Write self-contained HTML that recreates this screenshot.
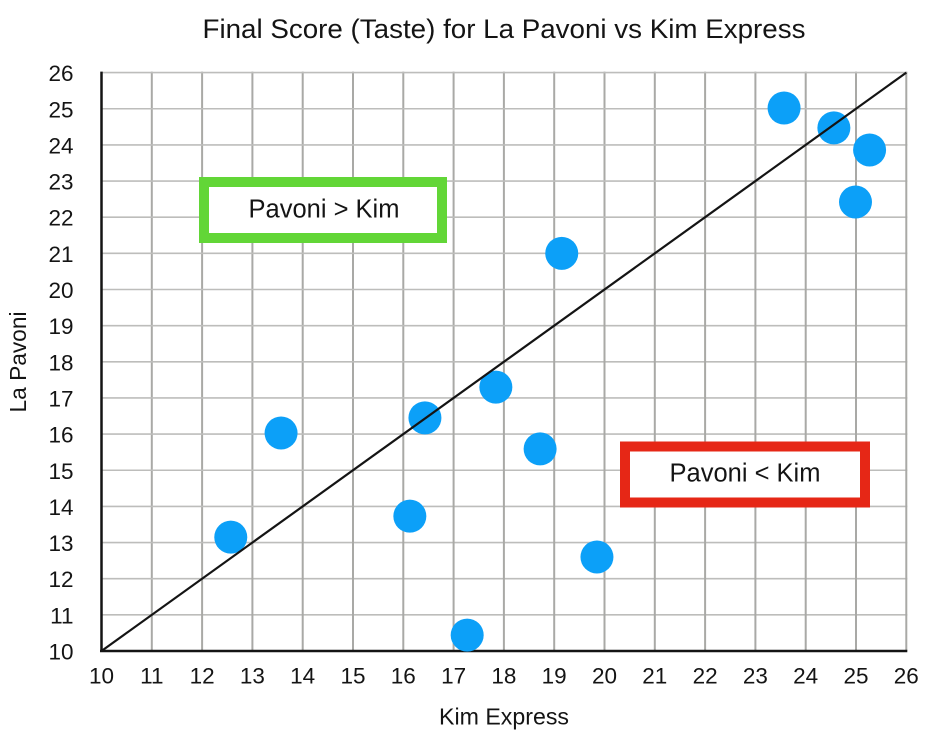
<!DOCTYPE html>
<html>
<head>
<meta charset="utf-8">
<style>
html,body{margin:0;padding:0;background:#fff;width:944px;height:743px;overflow:hidden}
svg{display:block}
text{font-family:"Liberation Sans",sans-serif;fill:#141414}
</style>
</head>
<body>
<svg id="chart" width="944" height="743" viewBox="0 0 944 743" xmlns="http://www.w3.org/2000/svg">
<rect x="0" y="0" width="944" height="743" fill="#fff"/>
<g id="grid"></g>
<g id="axes"></g>
<g id="ticks"></g>
<g id="line"></g>
<g id="points"></g>
<g id="notes"></g>
<text x="504" y="38" font-size="26.5" text-anchor="middle" textLength="603" lengthAdjust="spacingAndGlyphs">Final Score (Taste) for La Pavoni vs Kim Express</text>
<text x="504" y="724.5" font-size="23" text-anchor="middle" textLength="130" lengthAdjust="spacingAndGlyphs">Kim Express</text>
<text transform="translate(26 362) rotate(-90)" font-size="23" text-anchor="middle" textLength="101" lengthAdjust="spacingAndGlyphs">La Pavoni</text>
</svg>
<script>
const tickValues = [10,11,12,13,14,15,16,17,18,19,20,21,22,23,24,25,26];
const kimExpress = [12.57,13.57,16.43,16.13,17.27,17.84,18.72,19.15,19.85,23.57,24.56,25.27,24.99];
const laPavoni = [13.15,16.03,16.45,13.73,10.44,17.3,15.59,21.0,12.6,25.02,24.47,23.86,22.42];
const diagonalValues = [10,26];

const NS = 'http://www.w3.org/2000/svg';
const xScale = v => 101.5 + (v - 10) * 50.3;
const yScale = v => 651 - (v - 10) * 36.15;
function make(tag, attrs, parent){
  const el = document.createElementNS(NS, tag);
  for (const k in attrs) el.setAttribute(k, attrs[k]);
  parent.appendChild(el);
  return el;
}
const grid = document.getElementById('grid');
const axes = document.getElementById('axes');
const ticks = document.getElementById('ticks');
const lineGroup = document.getElementById('line');
const points = document.getElementById('points');
const notes = document.getElementById('notes');

tickValues.forEach(v => {
  if (v > 10) {
    const h = make('line', {x1:xScale(10), x2:xScale(26)+1, y1:yScale(v), y2:yScale(v), stroke:'#bdbdbb', 'stroke-width':1.6}, grid);
    
    
    const g = make('line', {x1:xScale(v), x2:xScale(v), y1:yScale(26)-1, y2:yScale(10), stroke:'#a9a9a6', 'stroke-width':2}, grid);
    
    
  }
  const xt = make('text', {x:xScale(v), y:683.5, 'font-size':22.5, 'text-anchor':'middle'}, ticks);
  xt.textContent = v;
  
  
  const yt = make('text', {x:73.5, y:yScale(v)+8.5, 'font-size':22.5, 'text-anchor':'end'}, ticks);
  yt.textContent = v;
  
  
});

const xAxis = make('line', {x1:xScale(10)-1.5, x2:xScale(26)+1, y1:yScale(10), y2:yScale(10), stroke:'#141414', 'stroke-width':2.5}, axes);


const yAxis = make('line', {x1:xScale(10), x2:xScale(10), y1:yScale(26)-1, y2:yScale(10), stroke:'#141414', 'stroke-width':2.5}, axes);



const diag = make('line', {x1:xScale(diagonalValues[0]), y1:yScale(diagonalValues[0]), x2:xScale(diagonalValues[1]), y2:yScale(diagonalValues[1]), stroke:'#141414', 'stroke-width':2.2}, lineGroup);



kimExpress.forEach((k, i) => {
  const c = make('circle', {cx:xScale(k), cy:yScale(laPavoni[i]), r:16.5, fill:'#0ca0f8'}, points);
  
  
});
// the diagonal passes over the points
points.parentNode.insertBefore(points, lineGroup);

const greenBox = make('rect', {x:204, y:182, width:238, height:56, fill:'#fff', stroke:'#62d637', 'stroke-width':10}, notes);


const greenText = make('text', {x:324, y:217.5, 'font-size':25.5, 'text-anchor':'middle'}, notes);
greenText.textContent = 'Pavoni > Kim';


const redBox = make('rect', {x:625, y:446.5, width:240, height:56, fill:'#fff', stroke:'#e62716', 'stroke-width':10}, notes);


const redText = make('text', {x:745, y:481.5, 'font-size':25.5, 'text-anchor':'middle'}, notes);
redText.textContent = 'Pavoni < Kim';


</script>
</body>
</html>
